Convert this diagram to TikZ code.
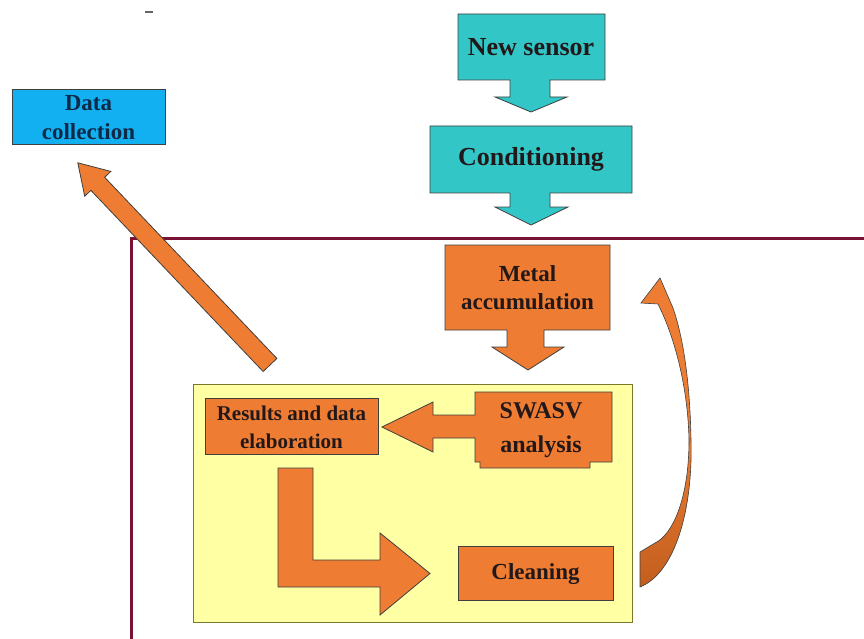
\documentclass[tikz,border=0pt]{standalone}
\usepackage{fontspec}
\setmainfont{Liberation Serif}
\definecolor{edge}{HTML}{3F3F3F}
\definecolor{teal1}{HTML}{33C6C6}
\definecolor{sky}{HTML}{12B0F0}
\definecolor{org}{HTML}{EE7D33}
\definecolor{orgdark}{HTML}{C25E1E}
\definecolor{paleyellow}{HTML}{FFFFA4}
\definecolor{maroon}{HTML}{7A1234}
\definecolor{txt}{HTML}{22181A}
\definecolor{navy}{HTML}{0E2A48}
\begin{document}
\begin{tikzpicture}[x=1pt,y=-1pt,
  blk/.style={draw=edge, line width=0.8pt, line join=miter},
  tealblk/.style={blk, fill=teal1},
  orgblk/.style={blk, fill=org},
  lbl/.style={font=\bfseries\fontsize{23}{26}\selectfont, text=txt, align=center, inner sep=0pt},
  biglbl/.style={lbl, font=\bfseries\fontsize{26}{28}\selectfont}]
\useasboundingbox (0,0) rectangle (864,639);
\fill[white] (0,0) rectangle (864,639);

% small mark at top
\draw[edge!80, line width=1.5pt] (145,12) -- (153,12);

% maroon frame
\draw[maroon, line width=3pt] (864,238) -- (131,238) -- (131,639);

% Data collection
\node[blk, fill=sky, minimum width=153pt, minimum height=55pt, inner sep=0pt] (data) at (88.5,116.5) {};
\node[lbl, text=navy] (datat) at (88.5,118) {Data\\[3pt]collection};

% New sensor callout
\path[tealblk] (458,14) -- (605,14) -- (605,80) -- (550,80) -- (550,97) -- (567,97) -- (531,112)
  -- (495,97) -- (510,97) -- (510,80) -- (458,80) -- cycle;
\node[biglbl] (sensor) at (531,47) {New sensor};

% Conditioning callout
\path[tealblk] (430,126) -- (632,126) -- (632,193) -- (550,193) -- (550,207) -- (568,207) -- (531,225)
  -- (495,207) -- (510,207) -- (510,193) -- (430,193) -- cycle;
\node[biglbl] (cond) at (531,159.5) {Conditioning};

% yellow area
\node[draw=edge!70!yellow, line width=0.8pt, fill=paleyellow, minimum width=439pt, minimum height=238pt, inner sep=0pt] (area) at (412.5,503) {};

% diagonal arrow to Data collection
\coordinate (dstart) at (270,365);
\begin{scope}[shift={(dstart)}, rotate=133.55]
  \path[orgblk] (0,-9.5) -- (250,-9.5) -- (250,-18) -- (279,0) -- (250,18) -- (250,9.5) -- (0,9.5) -- cycle;
\end{scope}

% Metal accumulation callout
\path[orgblk] (445,245) -- (610,245) -- (610,330) -- (544,330) -- (544,347) -- (564,347) -- (528,370)
  -- (492,347) -- (507,347) -- (507,330) -- (445,330) -- cycle;
\node[lbl] (metal) at (527.5,288) {Metal\\[2pt]accumulation};

% Results and data elaboration
\node[orgblk, minimum width=173pt, minimum height=56pt, inner sep=0pt] (res) at (291.5,426) {};
\node[lbl, font=\bfseries\fontsize{21}{24}\selectfont] (rest) at (291.5,427) {Results and data\\[4pt]elaboration};

% SWASV analysis callout (left arrow)
\path[orgblk] (475,392) -- (612,392) -- (612,462) -- (590,462) -- (590,468) -- (480,468) -- (480,462)
  -- (475,462) -- (475,438) -- (433,438) -- (433,452) -- (382,427) -- (433,402) -- (433,415)
  -- (475,415) -- cycle;
\node[lbl, font=\bfseries\fontsize{24}{28}\selectfont] (swasv) at (541,430) {SWASV\\[6pt]analysis};

% L-shaped bent arrow
\path[orgblk] (278,468) -- (313,468) -- (313,560) -- (380,560) -- (380,533) -- (430,573.5)
  -- (380,615) -- (380,587) -- (278,587) -- cycle;

% Cleaning
\node[orgblk, minimum width=155pt, minimum height=54pt, inner sep=0pt] (clean) at (535.5,573) {};
\node[lbl] (cleant) at (535.5,574) {Cleaning};

% curved return arrow
\path[draw=edge, line width=0.6pt, top color=org, bottom color=orgdark, middle color=org]
  (640,587) .. controls (675,573) and (693,510) .. (691,440)
  .. controls (690,385) and (684,340) .. (673,308)
  -- (660,278) -- (641,303) -- (658,304)
  .. controls (676,340) and (688,390) .. (689,440)
  .. controls (689,500) and (672,535) .. (655,543)
  -- (640,552) -- cycle;
\end{tikzpicture}
\end{document}
